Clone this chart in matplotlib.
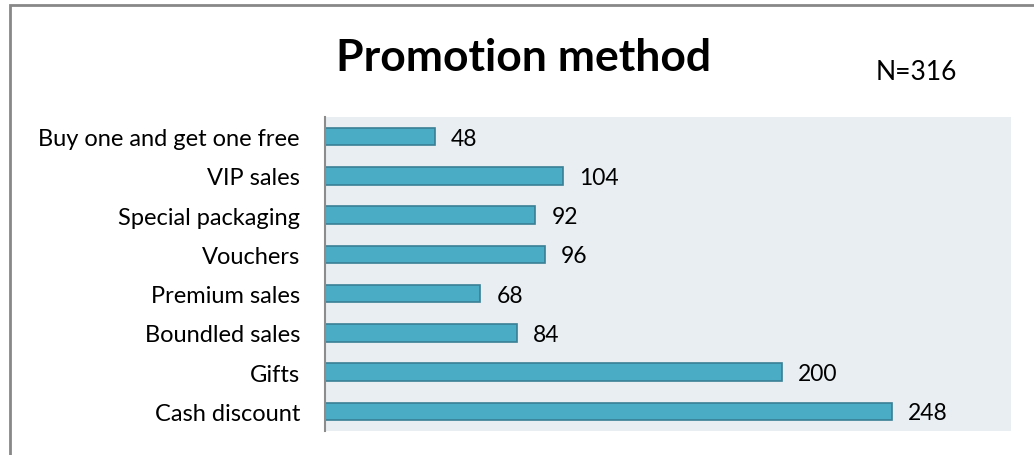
import matplotlib
matplotlib.use("Agg")
import matplotlib.pyplot as plt
from matplotlib.patches import Rectangle

# promotion methods, bottom to top as drawn
methods = ["Cash discount", "Gifts", "Boundled sales", "Premium sales",
           "Vouchers", "Special packaging", "VIP sales", "Buy one and get one free"]
counts = [248, 200, 84, 68, 96, 92, 104, 48]
n_total = 316

plt.rcParams['font.family'] = ['Lato', 'DejaVu Sans']

fig = plt.figure(figsize=(10.34, 4.56), dpi=100)
W, H = 1034, 456

# plot area in pixel coords: x 325..1011, y 118..432
ax = fig.add_axes([325 / W, 1 - 432 / H, (1011 - 325) / W, (432 - 118) / H])
ax.set_facecolor('#E8EEF2')

ypos = list(range(len(methods)))
ax.barh(ypos, counts, height=0.44, color='#4BACC6', edgecolor='#3A7F95', linewidth=1.2)

for y, v in zip(ypos, counts):
    ax.text(v + 7, y - 0.04, str(v), va='center', ha='left', fontsize=16.5, color='black')

ax.set_xlim(0, 300)
ax.set_ylim(-0.5, 7.5)
ax.set_yticks(ypos)
ax.set_yticklabels(methods, fontsize=17)
ax.tick_params(axis='y', length=0, pad=18)
ax.set_xticks([])

for s in ['top', 'right', 'bottom']:
    ax.spines[s].set_visible(False)
ax.spines['left'].set_color('#8C8C8C')
ax.spines['left'].set_linewidth(1.5)

fig.text(524 / W, 1 - 58 / H, 'Promotion method', ha='center', va='center',
         fontsize=32, fontweight='bold')
fig.text(916 / W, 1 - 73 / H, 'N=%d' % n_total, ha='center', va='center', fontsize=19)

# outer frame of the chart
fig.patches.append(Rectangle((10 / W, -0.1), 1.2, 1 - 6 / H + 0.1, transform=fig.transFigure,
                             fill=False, edgecolor='#888888', linewidth=2))

fig.savefig('out.png', dpi=100)
